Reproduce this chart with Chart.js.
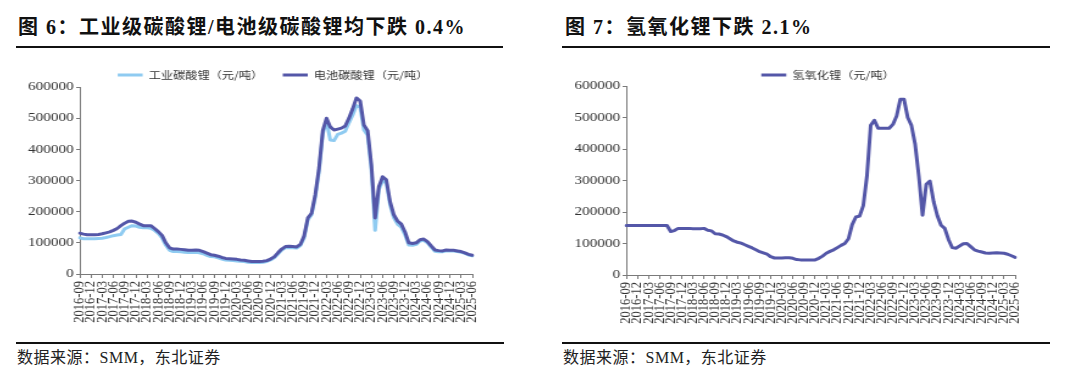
<!DOCTYPE html>
<html>
<head>
<meta charset="utf-8">
<script src="https://cdn.jsdelivr.net/npm/chart.js@4/dist/chart.umd.min.js"></script>
<style>
  html, body { margin:0; padding:0; background:#fff; }
  body { width:1080px; height:375px; position:relative; overflow:hidden; }
  .title { position:absolute; top:13px; font-family:"Liberation Serif","Noto Sans CJK SC",serif; font-weight:700; font-size:20px; line-height:28px; letter-spacing:1.5px; color:#111; white-space:nowrap; }
  .rule { position:absolute; height:2px; background:#111; }
  .src { position:absolute; top:348px; font-family:"Liberation Serif","Noto Sans CJK SC",serif; font-size:16px; line-height:20px; letter-spacing:0.5px; color:#222; white-space:nowrap; }
  canvas { position:absolute; }
</style>
</head>
<body>
<div class="title" style="left:18px;">图 6：工业级碳酸锂/电池级碳酸锂均下跌 0.4%</div>
<div class="rule" style="left:16px; width:487px; top:46px;"></div>
<div class="title" style="left:565px;">图 7：氢氧化锂下跌 2.1%</div>
<div class="rule" style="left:562px; width:488px; top:46px;"></div>

<canvas id="c1" width="443" height="285" style="left:3px; top:54px; width:540px; height:285px;"></canvas>
<canvas id="c2" width="443" height="285" style="left:558px; top:54px; width:540px; height:285px;"></canvas>

<div class="rule" style="left:16px; width:488px; top:342px;"></div>
<div class="src" style="left:17px;">数据来源：SMM，东北证券</div>
<div class="rule" style="left:562px; width:488px; top:342px;"></div>
<div class="src" style="left:563px;">数据来源：SMM，东北证券</div>

<script>
const categories = [
  "2016-09","2016-10","2016-11","2016-12",
  "2017-01","2017-02","2017-03","2017-04","2017-05","2017-06","2017-07","2017-08","2017-09","2017-10","2017-11","2017-12",
  "2018-01","2018-02","2018-03","2018-04","2018-05","2018-06","2018-07","2018-08","2018-09","2018-10","2018-11","2018-12",
  "2019-01","2019-02","2019-03","2019-04","2019-05","2019-06","2019-07","2019-08","2019-09","2019-10","2019-11","2019-12",
  "2020-01","2020-02","2020-03","2020-04","2020-05","2020-06","2020-07","2020-08","2020-09","2020-10","2020-11","2020-12",
  "2021-01","2021-02","2021-03","2021-04","2021-05","2021-06","2021-07","2021-08","2021-09","2021-10","2021-11","2021-12",
  "2022-01","2022-02","2022-03","2022-04","2022-05","2022-06","2022-07","2022-08","2022-09","2022-10","2022-11","2022-12",
  "2023-01","2023-02","2023-03","2023-04","2023-05","2023-06","2023-07","2023-08","2023-09","2023-10","2023-11","2023-12",
  "2024-01","2024-02","2024-03","2024-04","2024-05","2024-06","2024-07","2024-08","2024-09","2024-10","2024-11","2024-12",
  "2025-01","2025-02","2025-03","2025-04","2025-05","2025-06"
];

// 电池碳酸锂（元/吨）
const batteryCarbonate = [
  131000,128000,126000,126000,
  126000,127000,129000,132000,135000,140000,146000,155000,163000,169000,170000,166000,
  160000,155000,155000,155000,146000,136000,124000,100000,84000,80000,80000,79000,
  78000,76000,76000,77000,76000,72000,67000,62000,60000,57000,53000,50000,
  49000,48000,47000,45000,44000,42000,40000,40000,40000,41000,43000,48000,
  55000,68000,80000,88000,89000,88000,87000,95000,122000,180000,195000,255000,
  340000,460000,500000,472000,462000,465000,468000,475000,500000,530000,565000,555000,
  478000,460000,350000,180000,280000,312000,302000,232000,190000,170000,160000,135000,
  100000,98000,100000,110000,112000,104000,90000,77000,75000,74000,77000,76000,
  76000,74000,72000,68000,63000,60000
];

// 工业碳酸锂（元/吨）
const industrialCarbonate = [
  116000,113000,113000,113000,
  113000,114000,115000,117000,120000,123000,125000,127000,145000,150000,155000,154000,
  150000,148000,148000,147000,140000,130000,116000,92000,76000,72000,72000,71000,
  70000,69000,69000,70000,68000,65000,60000,56000,55000,52000,48000,45000,
  44000,43000,42000,41000,40000,38000,37000,37000,37000,38000,40000,45000,
  52000,64000,77000,84000,85000,84000,83000,91000,116000,174000,190000,248000,
  330000,450000,490000,430000,428000,448000,452000,458000,485000,510000,540000,535000,
  462000,445000,335000,140000,270000,300000,292000,222000,180000,160000,150000,125000,
  93000,92000,95000,106000,108000,100000,86000,73000,71000,71000,74000,74000,
  74000,72000,70000,66000,61000,58000
];

// 氢氧化锂（元/吨）
const hydroxide = [
  157000,157000,157000,157000,
  157000,157000,157000,157000,157000,157000,157000,157000,138000,141000,148000,148000,
  148000,148000,147000,147000,147000,148000,142000,140000,131000,130000,127000,122000,
  115000,108000,104000,101000,96000,91000,86000,80000,74000,70000,66000,58000,
  54000,54000,54000,55000,55000,53000,49000,48000,48000,48000,48000,48000,
  53000,60000,69000,75000,80000,87000,94000,100000,115000,160000,184000,187000,
  220000,315000,475000,491000,466000,466000,466000,466000,478000,505000,558000,558000,
  500000,475000,415000,314000,190000,288000,298000,233000,188000,158000,148000,113000,
  87000,85000,92000,99000,100000,90000,80000,76000,73000,70000,69000,70000,
  71000,70000,69000,66000,61000,56000
];

const yTickValues = [0, 100000, 200000, 300000, 400000, 500000, 600000];
const xTickEvery = 3;

const darkBlue = '#5457a8';
const lightBlue = '#8fcbf1';
const axisColor = '#7a7a7a';
const serif = '"Liberation Serif","Times New Roman",serif';
const cjk = '"Noto Sans CJK SC","Liberation Serif",sans-serif';

function makeOptions(leftW, rightW, legendH) {
  return {
    responsive: false,
    animation: false,
    devicePixelRatio: 1,
    layout: { padding: 0 },
    plugins: {
      legend: {
        position: 'top',
        reverse: true,
        maxHeight: legendH,
        labels: {
          usePointStyle: true,
          pointStyle: 'line',
          pointStyleWidth: 20.5,
          font: { family: cjk, size: 10 },
          color: '#333',
          padding: 16
        }
      },
      tooltip: { enabled: false }
    },
    scales: {
      x: {
        type: 'category',
        offset: false,
        grid: { display: true, drawOnChartArea: false, drawTicks: true, tickLength: 4, color: axisColor },
        border: { display: true, color: axisColor, width: 1 },
        ticks: {
          autoSkip: false, maxRotation: 90, minRotation: 90, padding: 3,
          font: { family: serif, size: 12.5 }, color: '#333',
          callback: function(v, i) { return i % xTickEvery === 0 ? categories[i] : null; }
        }
      },
      y: {
        type: 'linear', position: 'left', min: yTickValues[0], max: yTickValues[yTickValues.length - 1],
        grid: { display: true, drawOnChartArea: false, drawTicks: true, tickLength: 3, color: axisColor },
        border: { display: true, color: axisColor, width: 1 },
        afterBuildTicks: function(s) { s.ticks = yTickValues.map(v => ({ value: v })); },
        ticks: {
          padding: 2, font: { family: serif, size: 12.5 }, color: '#333',
          callback: function(v) { return String(v); }
        },
        afterFit: function(s) { s.width = leftW; }
      },
      yR: {
        type: 'linear', position: 'right', display: true,
        grid: { display: false }, border: { display: false }, ticks: { display: false },
        afterFit: function(s) { s.width = rightW; }
      }
    }
  };
}

function fixX(h) { return function(s) { s.height = h; }; }

const lineStyle = { borderWidth: 3, pointRadius: 0, tension: 0, fill: false, borderJoinStyle: 'round', borderCapStyle: 'round' };

const opt1 = makeOptions(63, 58, 33);
opt1.scales.x.afterFit = fixX(65);
new Chart(document.getElementById('c1'), {
  type: 'line',
  data: {
    labels: categories,
    datasets: [
      Object.assign({ label: '电池碳酸锂（元/吨）', data: batteryCarbonate, borderColor: darkBlue, backgroundColor: darkBlue }, lineStyle),
      Object.assign({ label: '工业碳酸锂（元/吨）', data: industrialCarbonate, borderColor: lightBlue, backgroundColor: lightBlue }, lineStyle)
    ]
  },
  options: opt1
});

const opt2 = makeOptions(56, 68, 32);
opt2.scales.x.afterFit = fixX(64);
new Chart(document.getElementById('c2'), {
  type: 'line',
  data: {
    labels: categories,
    datasets: [
      Object.assign({ label: '氢氧化锂（元/吨）', data: hydroxide, borderColor: darkBlue, backgroundColor: darkBlue }, lineStyle)
    ]
  },
  options: opt2
});
</script>
</body>
</html>
